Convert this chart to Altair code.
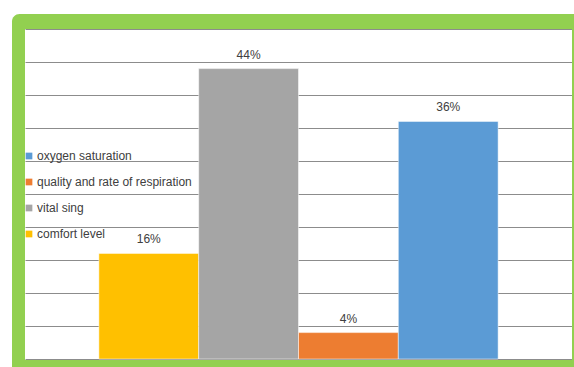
import altair as alt
import pandas as pd

categories = ["comfort level", "vital sing", "quality and rate of respiration", "oxygen saturation"]
values = [16, 44, 4, 36]
labels = ["16%", "44%", "4%", "36%"]
legend_order = ["oxygen saturation", "quality and rate of respiration", "vital sing", "comfort level"]
legend_colors = ["#5B9BD5", "#ED7D31", "#A5A5A5", "#FFC000"]
grid_values = [0, 5, 10, 15, 20, 25, 30, 35, 40, 45, 50]

df = pd.DataFrame({"category": categories, "value": values, "label": labels})

W, H = 547, 330
GREEN = "#92D050"

x = alt.X("category:N", sort=categories, axis=None,
          scale=alt.Scale(paddingInner=0, paddingOuter=0.74))
y = alt.Y("value:Q", title=None,
          scale=alt.Scale(domain=[0, 50], nice=False),
          axis=alt.Axis(grid=True, labels=False, ticks=False, domain=False,
                        values=grid_values, gridColor="#8C8C8C", gridWidth=1))

bars = alt.Chart(df).mark_bar(stroke="white", strokeWidth=0.5).encode(
    x=x, y=y,
    color=alt.Color("category:N",
                    scale=alt.Scale(domain=legend_order, range=legend_colors),
                    legend=alt.Legend(title=None, orient="none", legendX=-2, legendY=121,
                                      symbolType="square", symbolSize=45,
                                      symbolStrokeWidth=0, labelFontSize=12,
                                      labelFont="Liberation Sans", labelColor="#404040",
                                      labelOffset=2, rowPadding=14, padding=0,
                                      symbolOffset=0)),
)

text = alt.Chart(df).mark_text(baseline="alphabetic", dy=-10, fontSize=12,
                               font="Liberation Sans", color="#404040").encode(
    x=x, y=y, text="label:N"
)

one = pd.DataFrame({"a": [0]})
top = alt.Chart(one).mark_rect(color=GREEN, cornerRadiusTopLeft=15).encode(
    x=alt.value(-13), x2=alt.value(W + 2), y=alt.value(-15), y2=alt.value(0))
left = alt.Chart(one).mark_rect(color=GREEN).encode(
    x=alt.value(-13), x2=alt.value(0), y=alt.value(0), y2=alt.value(H + 10))
bottom = alt.Chart(one).mark_rect(color=GREEN).encode(
    x=alt.value(-13), x2=alt.value(W + 2), y=alt.value(H + 1), y2=alt.value(H + 10))
right = alt.Chart(one).mark_rect(color=GREEN).encode(
    x=alt.value(W), x2=alt.value(W + 2), y=alt.value(0), y2=alt.value(H + 10))

chart = alt.layer(bars, text, top, left, bottom, right).properties(
    width=W, height=H,
    autosize=alt.AutoSizeParams(type="none"),
    padding={"left": 25, "top": 29, "right": 2, "bottom": 8},
    background="white",
).configure_view(stroke=None)

chart.save("out.html", embed_options={"renderer": "svg", "actions": False})
